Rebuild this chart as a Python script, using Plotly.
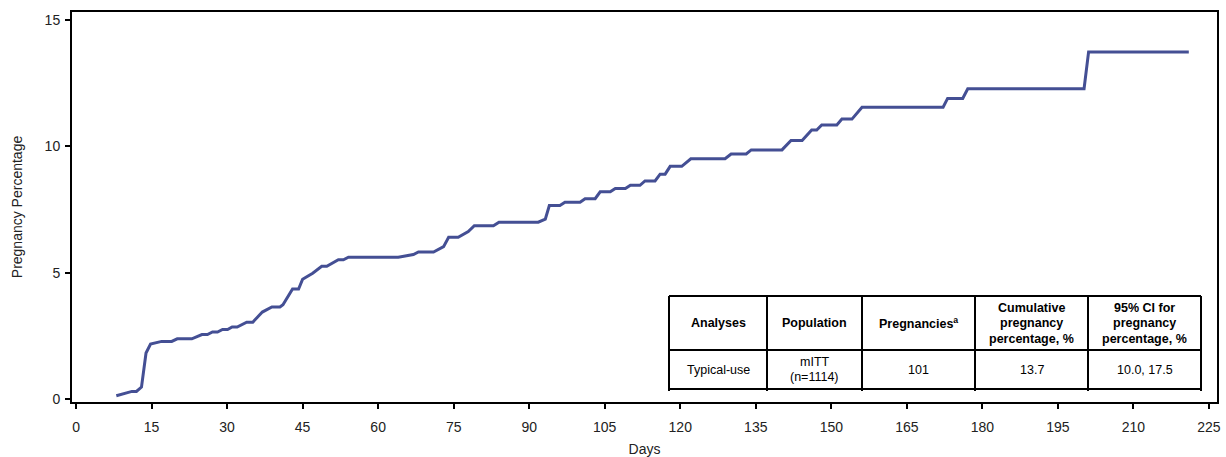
import plotly.graph_objects as go

# ---- data ----
days = [8, 9.7, 11.1, 12, 13, 13.9, 14.8, 17, 19, 20.1, 23, 25, 26.1, 27.1, 28.1, 29.1, 30.1, 31, 32,
        33.9, 35.1, 37, 38.9, 40.5, 41.1, 43, 44.2, 45, 47, 48.8, 49.8, 52.1, 53.1, 54.1, 64, 67, 68,
        71, 73, 74, 75.9, 77.9, 79.1, 82.9, 84, 91.8, 93.2, 94, 96.1, 97.1, 100.1, 101.1, 103.1,
        104.1, 106.1, 107.1, 109.1, 110.1, 112, 113, 115, 116, 117, 118, 120.3, 122.1, 128.9, 130.1,
        133.1, 134.1, 140.2, 142, 144.2, 146.1, 147.1, 148.1, 151.1, 152.1, 154.1, 156.1, 172.2,
        173.1, 176.1, 177.1, 200.2, 201.1, 221]
pregnancy_pct = [0.13, 0.21, 0.3, 0.3, 0.47, 1.82, 2.17, 2.28, 2.28, 2.38, 2.38, 2.55, 2.55, 2.65,
                 2.65, 2.75, 2.75, 2.85, 2.85, 3.04, 3.04, 3.44, 3.64, 3.64, 3.73, 4.35, 4.35, 4.74,
                 4.98, 5.25, 5.25, 5.51, 5.51, 5.61, 5.61, 5.72, 5.82, 5.82, 6.03, 6.4, 6.4, 6.63,
                 6.86, 6.86, 7.0, 7.0, 7.12, 7.66, 7.66, 7.79, 7.79, 7.93, 7.93, 8.2, 8.2, 8.33,
                 8.33, 8.46, 8.46, 8.63, 8.63, 8.9, 8.9, 9.21, 9.21, 9.51, 9.51, 9.7, 9.7, 9.86,
                 9.86, 10.23, 10.23, 10.65, 10.65, 10.85, 10.85, 11.08, 11.08, 11.55, 11.55, 11.9,
                 11.9, 12.28, 12.28, 13.74, 13.74]

x_ticks = list(range(0, 226, 15))
y_ticks = [0, 5, 10, 15]

table_header = ["Analyses", "Population", "Pregnancies<sup>a</sup>",
                "Cumulative<br>pregnancy<br>percentage, %", "95% CI for<br>pregnancy<br>percentage, %"]
table_row = ["Typical-use", "mITT<br>(n=1114)", "101", "13.7", "10.0, 17.5"]

# ---- layout geometry (pixels) ----
W, H = 1226, 457
ML, MR, MT, MB = 72, 9, 12, 55
PW, PH = W - ML - MR, H - MT - MB
FONT = "Liberation Sans, Arial, Helvetica, sans-serif"
LINE_COLOR = "#444f94"


def px_x(px):
    return (px - ML) / PW


def px_y(py):
    return (H - MB - py) / PH


col_edges = [669, 767, 862, 975, 1088, 1201]
row_edges = [296, 350, 389]
line_gap = 15.5

fig = go.Figure()
fig.add_trace(go.Scatter(x=days, y=pregnancy_pct, mode="lines",
                         line=dict(color=LINE_COLOR, width=3), showlegend=False,
                         hoverinfo="skip"))

shapes = []
# outer border and grid of the inset table
for xe in col_edges:
    shapes.append(dict(type="line", xref="paper", yref="paper",
                       x0=px_x(xe), x1=px_x(xe), y0=px_y(row_edges[0]), y1=px_y(row_edges[-1] + 2),
                       line=dict(color="black", width=2)))
for ye in row_edges:
    shapes.append(dict(type="line", xref="paper", yref="paper",
                       x0=px_x(col_edges[0]), x1=px_x(col_edges[-1]), y0=px_y(ye), y1=px_y(ye),
                       line=dict(color="black", width=2)))

annotations = []
for r, (row_texts, bold) in enumerate([(table_header, True), (table_row, False)]):
    cy = (row_edges[r] + row_edges[r + 1]) / 2
    for c, txt in enumerate(row_texts):
        cx = (col_edges[c] + col_edges[c + 1]) / 2
        lines = txt.split("<br>")
        n = len(lines)
        for i, ln in enumerate(lines):
            ly = cy + (i - (n - 1) / 2) * line_gap
            annotations.append(dict(
                x=px_x(cx), y=px_y(ly), xref="paper", yref="paper",
                text=("<b>%s</b>" % ln) if bold else ln, showarrow=False,
                xanchor="center", yanchor="middle",
                font=dict(family=FONT, size=12.5, color="black")))

fig.update_layout(
    width=W, height=H,
    margin=dict(l=ML, r=MR, t=MT, b=MB, pad=0, autoexpand=False),
    paper_bgcolor="white", plot_bgcolor="white",
    font=dict(family=FONT, size=14, color="#222222"),
    shapes=shapes, annotations=annotations,
    xaxis=dict(range=[-0.8, 226.6], tickvals=x_ticks, ticks="outside", ticklen=5, tickwidth=2,
               tickcolor="black", showline=True, linecolor="black", linewidth=2, mirror=True,
               showgrid=False, zeroline=False, tickfont=dict(size=14, color="#222222"),
               ticklabelstandoff=6, automargin=False,
               title=dict(text="Days", font=dict(size=14, color="#222222"), standoff=10)),
    yaxis=dict(range=[-0.12, 15.32], tickvals=y_ticks, ticks="outside", ticklen=5, tickwidth=2,
               tickcolor="black", showline=True, linecolor="black", linewidth=2, mirror=True,
               showgrid=False, zeroline=False, tickfont=dict(size=14, color="#222222"),
               ticklabelstandoff=2, automargin=False,
               title=dict(text="Pregnancy Percentage", font=dict(size=14, color="#222222"),
                          standoff=19)),
)

fig.write_html("out.html", config={"displayModeBar": False},
               post_script="document.body.style.margin='0px';")
